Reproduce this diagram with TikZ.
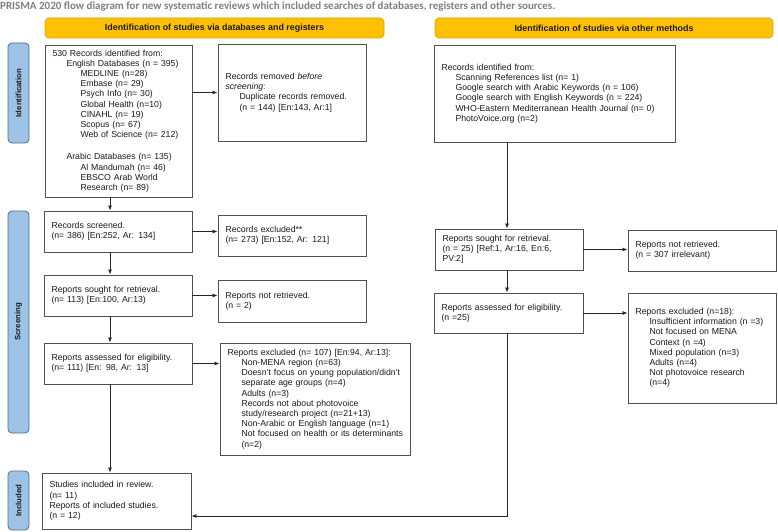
\documentclass[tikz,border=0pt]{standalone}
\usepackage{fontspec}
\setmainfont{Liberation Sans}
\newfontfamily\titlefam{Carlito}
\usetikzlibrary{arrows.meta,calc}
\definecolor{boxc}{HTML}{505050}
\definecolor{txtc}{HTML}{1A1A1A}
\definecolor{bannerc}{HTML}{FFC000}
\definecolor{bannerd}{HTML}{D9A400}
\definecolor{phasec}{HTML}{9DC3E6}
\definecolor{phased}{HTML}{4F6F8F}
\definecolor{titlec}{HTML}{808080}
\newcommand\boxfont{\fontsize{8.7}{10.2}\selectfont}
\newcommand\myind[1]{\mbox{\hspace*{14pt}#1}}
\newcommand\mydind[1]{\mbox{\hspace*{28pt}#1}}
\tikzset{
  pbox/.style={draw=boxc, line width=0.9pt, fill=white, font=\boxfont, text=txtc,
    align=left, inner xsep=7.5pt, inner ysep=0pt, anchor=center},
  banner/.style={draw=bannerd, fill=bannerc, rounded corners=4pt, line width=0.6pt,
    font=\fontsize{8.9}{10}\selectfont\bfseries, text=txtc, inner sep=0pt, minimum height=20pt},
  phase/.style={draw=phased, fill=phasec, rounded corners=4pt, line width=0.8pt,
    font=\fontsize{7.8}{9}\selectfont\bfseries, text=txtc, rotate=90, inner sep=0pt, minimum height=21pt},
  arr/.style={-{Latex[length=5pt,width=4pt]}, line width=0.8pt, draw=black!85},
  conn/.style={line width=0.8pt, draw=black!85}
}
\begin{document}
\begin{tikzpicture}[x=1pt,y=-1pt]
\useasboundingbox (0,0) rectangle (778,532);
\coordinate (xl) at (110,0);
\coordinate (xr) at (507,0);
\coordinate (yb) at (0,516);

% title
\node[anchor=base west, inner sep=0pt, font=\titlefam\fontsize{11}{12}\selectfont\bfseries, text=titlec] (title) at (0,10)
  {PRISMA 2020 flow diagram for new systematic reviews which included searches of databases, registers and other sources.};

% banners
\node[banner, minimum width=339pt] (BL) at (214.5,28) {Identification of studies via databases and registers};
\node[banner, minimum width=338pt] (BR) at (604,28) {Identification of studies via other methods};

% phase labels
\node[phase, minimum width=100pt] (P1) at (18.5,93) {Identification};
\node[phase, minimum width=222pt] (P2) at (18.5,322) {Screening};
\node[phase, minimum width=59pt] (P3) at (18.5,500.5) {Included};

% left column
\node[pbox, text width=132pt, minimum height=152pt] (L1) at (118.5,121) {%
530 Records identified from:\\
\myind{English Databases (n = 395)}\\
\mydind{MEDLINE (n=28)}\\
\mydind{Embase (n= 29)}\\
\mydind{Psych Info (n= 30)}\\
\mydind{Global Health (n=10)}\\
\mydind{CINAHL (n= 19)}\\
\mydind{Scopus (n= 67)}\\
\mydind{Web of Science (n= 212)}\\[12pt]
\myind{Arabic Databases (n= 135)}\\
\mydind{Al Mandumah (n= 46)}\\
\mydind{EBSCO Arab World}\\
\mydind{Research (n= 89)}};

\node[pbox, text width=133pt, minimum height=97pt] (L1R) at (292,92.5) {%
Records removed \textit{before}\\
\textit{screening}:\\
\myind{Duplicate records removed.}\\
\myind{(n = 144) [En:143, Ar:1]}};

\node[pbox, text width=133pt, minimum height=41pt] (L2) at (118,231.5) {%
Records screened.\\
(n= 386) [En:252, Ar: 134]};

\node[pbox, text width=133pt, minimum height=41pt] (L2R) at (292,235.5) {%
Records excluded**\\
(n= 273) [En:152, Ar: 121]};

\node[pbox, text width=133pt, minimum height=41pt] (L3) at (118,295.5) {%
Reports sought for retrieval.\\
(n= 113) [En:100, Ar:13)};

\node[pbox, text width=133pt, minimum height=42pt] (L3R) at (292,301) {%
Reports not retrieved.\\
(n = 2)};

\node[pbox, text width=133pt, minimum height=41pt] (L4) at (118,363.5) {%
Reports assessed for eligibility.\\
(n= 111) [En: 98, Ar: 13]};

\node[pbox, text width=175pt, minimum height=112pt] (L4R) at (315,399) {%
\mbox{Reports excluded (n= 107) [En:94, Ar:13]:}\\
\myind{Non-MENA region (n=63)}\\
\myind{Doesn't focus on young population/didn't}\\
\myind{separate age groups (n=4)}\\
\myind{Adults (n=3)}\\
\myind{Records not about photovoice}\\
\myind{study/research project (n=21+13)}\\
\myind{Non-Arabic or English language (n=1)}\\
\myind{Not focused on health or its determinants}\\
\myind{(n=2)}};

\node[pbox, text width=134pt, minimum height=56pt] (L5) at (116.5,501) {%
Studies included in review.\\
(n= 11)\\
Reports of included studies.\\
(n = 12)};

% right column
\node[pbox, text width=226pt, minimum height=97pt] (R1) at (554.5,93.5) {%
Records identified from:\\
\myind{Scanning References list (n= 1)}\\
\myind{Google search with Arabic Keywords (n = 106)}\\
\myind{Google search with English Keywords (n = 224)}\\
\myind{WHO-Eastern Mediterranean Health Journal (n= 0)}\\
\myind{PhotoVoice.org (n=2)}};

\node[pbox, text width=133pt, minimum height=41pt] (R2) at (509,249.5) {%
\begin{tabular}{@{}l@{}}
Reports sought for retrieval.\\
(n = 25) [Ref:1, Ar:16, En:6,\\
PV:2]
\end{tabular}};

\node[pbox, text width=133pt, minimum height=41pt] (R2R) at (702,250.5) {%
Reports not retrieved.\\
(n = 307 irrelevant)};

\node[pbox, text width=134pt, minimum height=40pt] (R3) at (508.5,313) {%
Reports assessed for eligibility.\\
(n =25)};

\node[pbox, text width=133pt, minimum height=110pt] (R3R) at (702,348) {%
Reports excluded (n=18):\\
\myind{Insufficient information (n =3)}\\
\myind{Not focused on MENA}\\
\myind{Context (n =4)}\\
\myind{Mixed population (n=3)}\\
\myind{Adults (n=4)}\\
\myind{Not photovoice research}\\
\myind{(n=4)}};

% connectors left
\draw[arr] (L1.east |- L1R.west) -- (L1R.west);
\draw[arr] (L1.south -| xl) -- (L2.north -| xl);
\draw[arr] (L2.east) -- (L2.east -| L2R.west);
\draw[arr] (L2.south -| xl) -- (L3.north -| xl);
\draw[arr] (L3.east) -- (L3.east -| L3R.west);
\draw[arr] (L3.south -| xl) -- (L4.north -| xl);
\draw[arr] (L4.east) -- (L4.east -| L4R.west);
\draw[arr] (L4.south -| xl) -- (L5.north -| xl);

% connectors right
\draw[arr] (R1.south -| xr) -- (R2.north -| xr);
\draw[arr] (R2.east) -- (R2.east -| R2R.west);
\draw[arr] (R2.south -| xr) -- (R3.north -| xr);
\draw[arr] (R3.east) -- (R3.east -| R3R.west);
\draw[arr] (R3.south -| xr) |- (L5.east |- yb);
\end{tikzpicture}
\end{document}
